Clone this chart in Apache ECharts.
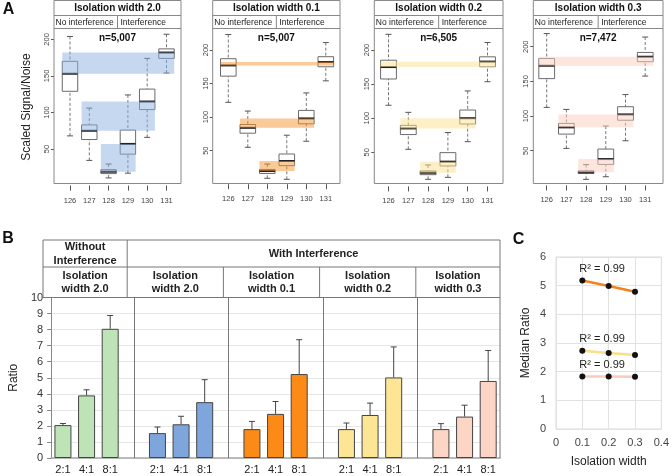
<!DOCTYPE html>
<html><head><meta charset="utf-8">
<script src="https://cdn.jsdelivr.net/npm/echarts@6/dist/echarts.min.js"></script>
<style>html,body{margin:0;padding:0;background:#fff}#c{width:672px;height:476px}</style>
</head><body><div id="c"></div><script>
// ---------------- DATA ----------------
// Panel A: reporter channels, boxplot stats [low whisker, Q1, median, Q3, high whisker]
const channels = ['126','127','128','129','130','131'];
const panelATitles = ['Isolation width 2.0','Isolation width 0.1','Isolation width 0.2','Isolation width 0.3'];
const panelACounts = ['n=5,007','n=5,007','n=6,505','n=7,472'];
const stripLabels = ['No interference','Interference'];
const boxIso20 = [[68,129,153,170,204],[34.5,63,75,83,106],[10.5,16.4,19,21.8,29.5],[17,43,57,76,124],[66,104,115,132,174],[154,174,182,187,207]];
const boxIso01 = [[122,161,177,187,223],[55,76,84,89,109],[8.8,16,19.7,22,30],[7.3,27.7,34.6,45,73],[64,90,98,110,136],[154,175,182,190,211]];
const boxIso02 = [[119,157.5,175,185,223],[54.4,76,85,89.5,108.6],[10.4,17.2,20,22.6,31.4],[13.3,30,36.3,49.5,79],[65.6,91.5,100,112,140],[153.5,175.5,183,190,211]];
const boxIso03 = [[112.5,154,172.6,183,219],[53.4,74,83.7,89.4,109.6],[8.7,17.3,18.8,21,30],[12.5,30.3,38,52.4,85.6],[64.4,94,102.4,113.5,131],[157.7,178.4,185.6,191.8,214]];
const bandPairs = [[0,5],[1,4],[2,3]];
const aYTicks = [50,100,150,200];

// Panel B: mean ratio and error (upper SD)
const ratioLabels = ['2:1','4:1','8:1'];
const groupHeaderTop = ['Without\nInterference','With Interference'];
const groupHeaderSub = ['Isolation\nwidth 2.0','Isolation\nwidth 2.0','Isolation\nwidth 0.1','Isolation\nwidth 0.2','Isolation\nwidth 0.3'];
const meanNoInt20 = [2.05, 3.9, 8.05];
const meanInt20   = [1.55, 2.1, 3.48];
const meanInt01   = [1.8, 2.75, 5.23];
const meanInt02   = [1.8, 2.68, 5.02];
const meanInt03   = [1.8, 2.58, 4.8];
const errNoInt20 = [0.1, 0.35, 0.83];
const errInt20   = [0.38, 0.5, 1.4];
const errInt01   = [0.48, 0.77, 2.14];
const errInt02   = [0.38, 0.74, 1.9];
const errInt03   = [0.34, 0.71, 1.9];

// Panel C: median ratio vs isolation width
const isoWidths = [0.1, 0.2, 0.3];
const median8to1 = [5.18, 4.99, 4.79];
const median4to1 = [2.73, 2.65, 2.58];
const median2to1 = [1.83, 1.83, 1.82];
const rSquared = ['R² = 0.99','R² = 0.99','R² = 0.99'];

// ---------------- STYLE / LAYOUT ----------------
const FONT = '"Liberation Sans", Arial, sans-serif';
const bandColors = ['rgba(141,177,225,0.5)','rgba(245,150,50,0.5)','rgba(251,225,145,0.5)','rgba(251,205,189,0.5)'];
const barColors = ['#bde3b6','#7ea6dc','#fb8a16','#fde596','#fcd5c5'];
const lineColors = ['#f5821f','#f9df86','#f8cbbd'];
const aBoxes = [boxIso20, boxIso01, boxIso02, boxIso03];
const aFrames = [
  {L:54, R:181, c1:70, s:19.3, y0:185.6, ppu:0.7311},
  {L:212.7, R:340, c1:228.3, s:19.5, y0:184.2, ppu:0.6711},
  {L:374.3, R:503, c1:388.5, s:19.8, y0:186.4, ppu:0.682},
  {L:533.3, R:663, c1:546.7, s:19.7, y0:185.4, ppu:0.6933}
];
const A_TOP = 28.5, A_BOTTOM = 183.5, HDR_TOP = 0.5, HDR_MID = 15.5;
const B = {L:43, R:500, T:297.5, Bt:458, tblTop:240, tblMid:267};
const C = {L:556, R:663, T:257, Bt:429};

const grids = [], xAxes = [], yAxes = [], series = [], graphics = [];

function txt(x, y, text, size, weight, color, align, rot) {
  return {type:'text', x:x, y:y, rotation: rot || 0, silent:true, z:100,
    style:{text:text, font:(weight||'normal')+' '+size+'px '+FONT, fill:color||'#222',
      align:align||'center', verticalAlign:'middle', textAlign:align||'center', textVerticalAlign:'middle', lineHeight: size*1.25}};
}
function ln(x1,y1,x2,y2,color,w){
  return {type:'line', silent:true, z:90, shape:{x1:x1,y1:y1,x2:x2,y2:y2}, style:{stroke:color||'#888', lineWidth:w||1}};
}

// ---------- Panel A ----------
aFrames.forEach((f, i) => {
  const W = f.R - f.L;
  const s = f.s;
  const gl = f.c1 - s/2;
  const h = f.y0 - A_TOP;
  grids.push({left: gl, top: A_TOP, width: 6*s, height: h});
  xAxes.push({gridIndex:i, type:'category', data:channels, boundaryGap:true, offset:2,
    axisLine:{show:false}, axisTick:{show:true, alignWithLabel:true, length:5, lineStyle:{color:'#555'}},
    axisLabel:{fontSize:7.5, color:'#444', margin:9, interval:0, fontFamily:FONT}, splitLine:{show:false}});
  const ya = {gridIndex:i, type:'value', min:0, max:h/f.ppu, offset: gl - f.L,
    axisLine:{show:false}, splitLine:{show:false},
    axisTick:{show:true, length:3, customValues:aYTicks, lineStyle:{color:'#555'}},
    axisLabel:{customValues:aYTicks, rotate:90, fontSize:7.5, color:'#444', margin:3, fontFamily:FONT}};
  if (i === 0) {
    Object.assign(ya, {name:'Scaled Signal/Noise', nameLocation:'middle', nameGap:21,
      nameTextStyle:{fontSize:12, color:'#222', fontFamily:FONT}});
  }
  yAxes.push(ya);
  const boxes = aBoxes[i];
  series.push({type:'custom', xAxisIndex:i, yAxisIndex:i, z:2, silent:true, animation:false,
    encode:{x:0, y:[1,2,3,4,5]},
    data: boxes.map((b, k) => [k].concat(b)),
    renderItem: function(params, api){
      const x = api.value(0);
      const lo = api.coord([x, api.value(1)]), q1 = api.coord([x, api.value(2)]),
            md = api.coord([x, api.value(3)]), q3 = api.coord([x, api.value(4)]),
            hi = api.coord([x, api.value(5)]);
      const bw = api.size([1,0])[0]*0.8, cx = md[0], cap = 3;
      const g = '#777';
      return {type:'group', children:[
        {type:'line', shape:{x1:cx,y1:lo[1],x2:cx,y2:q1[1]}, style:{stroke:g, lineWidth:1, lineDash:[3,2]}},
        {type:'line', shape:{x1:cx,y1:hi[1],x2:cx,y2:q3[1]}, style:{stroke:g, lineWidth:1, lineDash:[3,2]}},
        {type:'line', shape:{x1:cx-cap,y1:lo[1],x2:cx+cap,y2:lo[1]}, style:{stroke:'#555', lineWidth:1}},
        {type:'line', shape:{x1:cx-cap,y1:hi[1],x2:cx+cap,y2:hi[1]}, style:{stroke:'#555', lineWidth:1}},
        {type:'rect', shape:{x:cx-bw/2, y:q3[1], width:bw, height:q1[1]-q3[1]}, style:{fill:'#fff', stroke:'#6a6a6a', lineWidth:1}},
        {type:'line', shape:{x1:cx-bw/2,y1:md[1],x2:cx+bw/2,y2:md[1]}, style:{stroke:'#222', lineWidth:2}}
      ]};
    }});
  series.push({type:'custom', xAxisIndex:i, yAxisIndex:i, z:3, silent:true, animation:false,
    encode:{x:[0,1], y:[2,3]},
    data: bandPairs.map(p => [p[0], p[1], boxes[p[0]][2], boxes[p[1]][2]]),
    renderItem: (function(col){ return function(params, api){
      const pa = api.coord([api.value(0), api.value(2)]);
      const pb = api.coord([api.value(1), api.value(3)]);
      const half = api.size([1,0])[0]*0.4;
      const x1 = Math.min(pa[0],pb[0]) - half, x2 = Math.max(pa[0],pb[0]) + half;
      const y1 = Math.min(pa[1],pb[1]), y2 = Math.max(pa[1],pb[1]);
      return {type:'rect', shape:{x:x1,y:y1,width:x2-x1,height:y2-y1}, style:{fill:col}};
    };})(bandColors[i])});
  // frame & strips
  const cxm = (f.L + f.R)/2;
  graphics.push({type:'rect', silent:true, z:90, shape:{x:f.L, y:HDR_TOP, width:W, height:A_BOTTOM-HDR_TOP}, style:{fill:null, stroke:'#888', lineWidth:1}});
  graphics.push(ln(f.L, HDR_MID, f.R, HDR_MID, '#888'));
  graphics.push(ln(f.L, A_TOP, f.R, A_TOP, '#888'));
  graphics.push(ln(cxm, HDR_MID, cxm, A_TOP, '#888'));
  graphics.push(txt(cxm, 8.3, panelATitles[i], 10, 'bold', '#111'));
  graphics.push(txt(f.L + 1.5, 22.3, stripLabels[0], 8.5, 'normal', '#222', 'left'));
  graphics.push(txt(cxm + 3, 22.3, stripLabels[1], 8.5, 'normal', '#222', 'left'));
  graphics.push(txt(cxm, 38, panelACounts[i], 10, 'bold', '#111'));
});

// ---------- Panel B ----------
const bMeans = [meanNoInt20, meanInt20, meanInt01, meanInt02, meanInt03];
const bErrs = [errNoInt20, errInt20, errInt01, errInt02, errInt03];
const bCats = [], bBarData = [], bErrData = [];
bMeans.forEach((arr, g) => {
  arr.forEach((v, k) => {
    bCats.push(ratioLabels[k]);
    bBarData.push({value:v, itemStyle:{color:barColors[g]}});
    bErrData.push([bCats.length-1, v, v + bErrs[g][k]]);
  });
  if (g < bMeans.length-1) { bCats.push(''); bBarData.push('-'); }
});
const dividerIdx = bCats.map((c,i)=>c===''?i:-1).filter(i=>i>=0);
grids.push({left:B.L, top:B.T, width:B.R-B.L, height:B.Bt-B.T});
xAxes.push({gridIndex:4, type:'category', data:bCats, boundaryGap:true,
  axisLine:{show:true, lineStyle:{color:'#a6a6a6', width:1.5}}, axisTick:{show:false},
  axisLabel:{fontSize:11, color:'#222', margin:6, interval:0, fontFamily:FONT}});
yAxes.push({gridIndex:4, type:'value', min:0, max:10, interval:1,
  name:'Ratio', nameLocation:'middle', nameGap:15, nameTextStyle:{fontSize:12, color:'#222', fontFamily:FONT},
  axisLine:{show:true, lineStyle:{color:'#888'}}, axisTick:{show:true, length:4, lineStyle:{color:'#888'}},
  axisLabel:{fontSize:11, color:'#333', margin:8, fontFamily:FONT},
  splitLine:{show:true, lineStyle:{color:'#e6e6e6'}}});
series.push({type:'bar', xAxisIndex:4, yAxisIndex:4, data:bBarData, barWidth:17, animation:false,
  itemStyle:{borderColor:'#444', borderWidth:1},
  markLine:{silent:true, symbol:['none','none'], animation:false, label:{show:false},
    lineStyle:{color:'#777', type:'solid', width:1},
    data: dividerIdx.map(i => ({xAxis:i}))}});
series.push({type:'custom', xAxisIndex:4, yAxisIndex:4, z:5, silent:true, animation:false,
  encode:{x:0, y:[1,2]}, data:bErrData,
  renderItem: function(params, api){
    const p0 = api.coord([api.value(0), api.value(1)]);
    const p1 = api.coord([api.value(0), api.value(2)]);
    return {type:'group', children:[
      {type:'line', shape:{x1:p0[0],y1:p0[1],x2:p1[0],y2:p1[1]}, style:{stroke:'#444', lineWidth:1}},
      {type:'line', shape:{x1:p1[0]-3,y1:p1[1],x2:p1[0]+3,y2:p1[1]}, style:{stroke:'#444', lineWidth:1}}
    ]};
  }});
// table
const slotW = (B.R - B.L) / bCats.length;
const divX = dividerIdx.map(i => B.L + (i+0.5)*slotW);
graphics.push({type:'rect', silent:true, z:90, shape:{x:B.L, y:B.tblTop, width:B.R-B.L, height:B.T-B.tblTop}, style:{fill:null, stroke:'#777', lineWidth:1}});
graphics.push(ln(B.L, B.tblMid, B.R, B.tblMid, '#777'));
graphics.push(ln(divX[0], B.tblTop, divX[0], B.T, '#777'));
divX.slice(1).forEach(x => graphics.push(ln(x, B.tblMid, x, B.T, '#777')));
graphics.push(ln(B.R, B.T, B.R, B.Bt, '#777'));
graphics.push(txt((B.L+divX[0])/2, 254, groupHeaderTop[0], 11, 'bold', '#222'));
graphics.push(txt((divX[0]+B.R)/2, 253.5, groupHeaderTop[1], 11, 'bold', '#222'));
const colEdges = [B.L].concat(divX).concat([B.R]);
groupHeaderSub.forEach((t, g) => graphics.push(txt((colEdges[g]+colEdges[g+1])/2, 282.5, t, 11, 'bold', '#222')));

// ---------- Panel C ----------
grids.push({left:C.L, top:C.T, width:C.R-C.L, height:C.Bt-C.T, show:true, borderColor:'#d9d9d9', borderWidth:1});
xAxes.push({gridIndex:5, type:'value', min:0, max:0.4, interval:0.1,
  name:'Isolation width', nameLocation:'middle', nameGap:27, nameTextStyle:{fontSize:12, color:'#222', fontFamily:FONT},
  axisLine:{show:false}, axisTick:{show:false},
  axisLabel:{fontSize:11, color:'#444', margin:8, fontFamily:FONT},
  splitLine:{show:true, lineStyle:{color:'#e2e2e2'}}});
yAxes.push({gridIndex:5, type:'value', min:0, max:6, interval:1,
  name:'Median Ratio', nameLocation:'middle', nameGap:24, nameTextStyle:{fontSize:12, color:'#222', fontFamily:FONT},
  axisLine:{show:false}, axisTick:{show:false},
  axisLabel:{fontSize:11, color:'#444', margin:10, fontFamily:FONT},
  splitLine:{show:true, lineStyle:{color:'#e2e2e2'}}});
[median8to1, median4to1, median2to1].forEach((arr, k) => {
  series.push({type:'line', xAxisIndex:5, yAxisIndex:5, animation:false, z:4,
    symbol:'circle', symbolSize:6, itemStyle:{color:'#111'},
    lineStyle:{color:lineColors[k], width:2.5},
    data: arr.map((v, j) => {
      const d = {value:[isoWidths[j], v]};
      if (j === 0) d.label = {show:true, formatter:rSquared[k], position:[0,-14], fontSize:11, color:'#222', fontFamily:FONT, align:'left', verticalAlign:'top'};
      return d;
    })});
});

// panel letters
graphics.push(txt(8.5, 9.5, 'A', 16, 'bold', '#111'));
graphics.push(txt(8, 238.5, 'B', 16, 'bold', '#111'));
graphics.push(txt(518.5, 240, 'C', 16, 'bold', '#111'));

const chart = echarts.init(document.getElementById('c'), null, {renderer:'canvas'});
chart.setOption({
  animation:false,
  backgroundColor:'#fff',
  textStyle:{fontFamily:FONT},
  grid:grids, xAxis:xAxes, yAxis:yAxes, series:series, graphic:graphics
});
</script></body></html>
